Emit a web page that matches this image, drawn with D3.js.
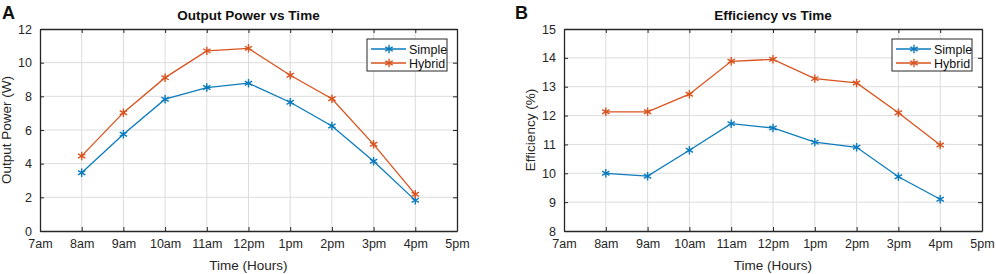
<!DOCTYPE html>
<html>
<head>
<meta charset="utf-8">
<script src="https://cdn.jsdelivr.net/npm/d3@7"></script>
<style>
body { margin: 0; background: #fff; }
svg { font-family: "Liberation Sans", Arial, sans-serif; }
.grid line { stroke: #dcdcdc; stroke-width: 1; }
.axis path, .axis line { stroke: #262626; }
.axis text { fill: #262626; font-size: 12.5px; }
</style>
</head>
<body>
<div id="chart"></div>
<script>
// x ticks (hours)
var hourLabels = ["7am","8am","9am","10am","11am","12pm","1pm","2pm","3pm","4pm","5pm"];
var hours = [8, 9, 10, 11, 12, 13, 14, 15, 16];

// panel A: output power (W)
var powerSimple = [3.46, 5.75, 7.83, 8.52, 8.78, 7.65, 6.24, 4.14, 1.82];
var powerHybrid = [4.46, 7.03, 9.11, 10.7, 10.85, 9.25, 7.86, 5.15, 2.18];

// panel B: efficiency (%)
var effSimple = [10.0, 9.9, 10.8, 11.72, 11.57, 11.08, 10.9, 9.88, 9.1];
var effHybrid = [12.13, 12.13, 12.74, 13.88, 13.95, 13.28, 13.13, 12.1, 10.98];

var seriesNames = ["Simple", "Hybrid"];
var colors = ["#0b7bbd", "#d9531e"];

var svg = d3.select("#chart").append("svg")
	.attr("width", 996)
	.attr("height", 274);

function drawPanel(opt) {
	var g = svg.append("g").attr("transform", "translate(" + opt.left + ",29)");
	var width = opt.width, height = 202;

	var xScale = d3.scaleLinear().domain([7, 17]).range([0, width]);
	var yScale = d3.scaleLinear().domain(opt.yDomain).range([height, 0]);
	var yTicks = d3.range(opt.yDomain[0], opt.yDomain[1] + 0.001, opt.yStep);
	var xTicks = d3.range(7, 18);

	// grid
	var grid = g.append("g").attr("class", "grid");
	grid.selectAll(".gx").data(xTicks.slice(1, -1)).enter().append("line")
		.attr("x1", function(d) { return xScale(d); })
		.attr("x2", function(d) { return xScale(d); })
		.attr("y1", 0).attr("y2", height);
	grid.selectAll(".gy").data(yTicks.slice(1, -1)).enter().append("line")
		.attr("y1", function(d) { return yScale(d); })
		.attr("y2", function(d) { return yScale(d); })
		.attr("x1", 0).attr("x2", width);

	var fmtHour = function(d) { return hourLabels[d - 7]; };

	// axes (box on, ticks inward like matlab)
	g.append("g").attr("class", "axis")
		.attr("transform", "translate(0," + height + ")")
		.call(d3.axisBottom(xScale).tickValues(xTicks).tickFormat(fmtHour).tickSizeInner(-4).tickSizeOuter(0).tickPadding(8));
	g.append("g").attr("class", "axis")
		.call(d3.axisTop(xScale).tickValues(xTicks).tickFormat("").tickSizeInner(-4).tickSizeOuter(0));
	g.append("g").attr("class", "axis")
		.call(d3.axisLeft(yScale).tickValues(yTicks).tickFormat(d3.format("d")).tickSizeInner(-4).tickSizeOuter(0).tickPadding(8));
	g.append("g").attr("class", "axis")
		.attr("transform", "translate(" + width + ",0)")
		.call(d3.axisRight(yScale).tickValues(yTicks).tickFormat("").tickSizeInner(-4).tickSizeOuter(0));
	g.selectAll(".axis path").attr("stroke-width", 1.3);

	var line = d3.line()
		.x(function(d, i) { return xScale(hours[i]); })
		.y(function(d) { return yScale(d); });

	opt.series.forEach(function(vals, k) {
		g.append("path")
			.datum(vals)
			.attr("fill", "none")
			.attr("stroke", colors[k])
			.attr("stroke-width", 1.3)
			.attr("d", line);
		g.selectAll(".m" + k).data(vals).enter().append("path")
			.attr("transform", function(d, i) { return "translate(" + xScale(hours[i]) + "," + yScale(d) + ")"; })
			.attr("d", d3.symbol(d3.symbolAsterisk, 50))
			.attr("stroke", colors[k])
			.attr("stroke-width", 1.4)
			.attr("fill", "none");
	});

	// title and labels
	g.append("text")
		.attr("x", width / 2).attr("y", -9)
		.attr("text-anchor", "middle")
		.style("font-size", "13.5px").style("font-weight", "bold")
		.attr("fill", "#111")
		.text(opt.title);
	g.append("text")
		.attr("x", width / 2).attr("y", height + 39)
		.attr("text-anchor", "middle")
		.style("font-size", "13.5px")
		.attr("fill", "#262626")
		.text("Time (Hours)");
	g.append("text")
		.attr("transform", "translate(" + (-opt.left + opt.yLabelX) + "," + height / 2 + ") rotate(-90)")
		.attr("text-anchor", "middle")
		.style("font-size", "13.5px")
		.attr("fill", "#262626")
		.text(opt.yLabel);
	g.append("text")
		.attr("x", opt.letterX - opt.left).attr("y", -10)
		.style("font-size", "18px").style("font-weight", "bold")
		.attr("fill", "#111")
		.text(opt.letter);

	// legend
	var lg = g.append("g").attr("transform", "translate(" + (width - 90) + ",10)");
	lg.append("rect").attr("width", 80).attr("height", 32)
		.attr("fill", "#fff").attr("stroke", "#262626").attr("stroke-width", 1);
	seriesNames.forEach(function(name, k) {
		var yy = 10 + k * 14;
		lg.append("line").attr("x1", 4).attr("x2", 39).attr("y1", yy).attr("y2", yy)
			.attr("stroke", colors[k]).attr("stroke-width", 1.3);
		lg.append("path").attr("transform", "translate(22," + yy + ")")
			.attr("d", d3.symbol(d3.symbolAsterisk, 50))
			.attr("stroke", colors[k]).attr("stroke-width", 1.4).attr("fill", "none");
		lg.append("text").attr("x", 42).attr("y", yy + 4.5)
			.style("font-size", "12.5px").attr("fill", "#111").text(name);
	});
}

drawPanel({
	left: 40, width: 417, yDomain: [0, 12], yStep: 2,
	series: [powerSimple, powerHybrid],
	title: "Output Power vs Time", yLabel: "Output Power (W)",
	yLabelX: 11, letter: "A", letterX: 2
});
drawPanel({
	left: 564, width: 418, yDomain: [8, 15], yStep: 1,
	series: [effSimple, effHybrid],
	title: "Efficiency vs Time", yLabel: "Efficiency (%)",
	yLabelX: 535, letter: "B", letterX: 515
});
</script>
</body>
</html>
